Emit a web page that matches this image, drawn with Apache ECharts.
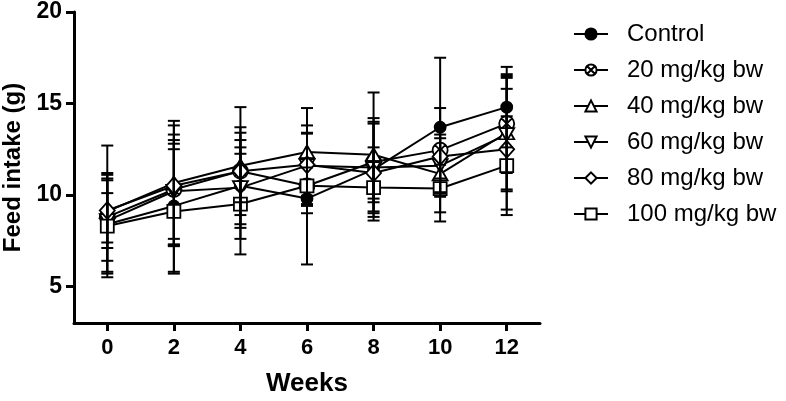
<!DOCTYPE html>
<html>
<head>
<meta charset="utf-8">
<script src="https://cdn.jsdelivr.net/npm/echarts@6/dist/echarts.min.js"></script>
<style>html,body{margin:0;padding:0;background:#fff}#c{width:786px;height:401px}</style>
</head>
<body>
<div id="c"></div>
<script>
const weeks = [0, 2, 4, 6, 8, 10, 12];
const xTicks = [0, 2, 4, 6, 8, 10, 12];
const yTicks = [5, 10, 15, 20];
const seriesNames = ['Control', '20 mg/kg bw', '40 mg/kg bw', '60 mg/kg bw', '80 mg/kg bw', '100 mg/kg bw'];

const controlMean = [8.4, 9.4, 10.5, 9.8, 11.4, 13.7, 14.8];
const controlSD   = [2.7, 3.6, 2.9, 3.6, 2.8, 3.8, 2.2];
const mg20Mean    = [8.8, 10.3, 11.3, 10.5, 11.8, 12.45, 13.9];
const mg20SD      = [2.4, 3.0, 2.4, 1.5, 2.2, 2.3, 2.7];
const mg40Mean    = [9.1, 10.65, 11.6, 12.35, 12.2, 11.15, 13.4];
const mg40SD      = [3.6, 3.4, 3.2, 2.4, 3.4, 2.6, 3.1];
const mg60Mean    = [8.6, 10.2, 10.4, 11.6, 11.5, 11.6, 13.3];
const mg60SD      = [1.5, 2.6, 2.2, 2.2, 2.4, 1.5, 3.1];
const mg80Mean    = [9.15, 10.5, 11.3, 11.65, 11.2, 12.1, 12.5];
const mg80SD      = [1.75, 3.3, 1.7, 1.7, 1.4, 1.2, 3.3];
const mg100Mean   = [8.3, 9.1, 9.5, 10.5, 10.4, 10.35, 11.6];
const mg100SD     = [2.5, 3.4, 2.75, 1.0, 1.4, 1.3, 2.7];

const means = [controlMean, mg20Mean, mg40Mean, mg60Mean, mg80Mean, mg100Mean];
const sds = [controlSD, mg20SD, mg40SD, mg60SD, mg80SD, mg100SD];

const FONT = 'Liberation Sans, Arial, sans-serif';
const symbols = [
  {symbol: 'circle', size: 11, fill: '#000'},
  {symbol: 'path://M10,1A9,9 0 1,1 9.99,1Z M3.6,3.6L16.4,16.4M16.4,3.6L3.6,16.4', size: 15, fill: '#fff'},
  {symbol: 'path://M7,0L14,12L0,12Z', size: [15, 13], fill: '#fff'},
  {symbol: 'path://M0,0L14,0L7,12Z', size: [15, 13], fill: '#fff'},
  {symbol: 'diamond', size: [15, 17], fill: '#fff'},
  {symbol: 'rect', size: 13, fill: '#fff'}
];

const series = [];
seriesNames.forEach((name, i) => {
  series.push({
    name: name,
    type: 'line',
    data: weeks.map((w, j) => [w, means[i][j]]),
    symbol: symbols[i].symbol,
    symbolSize: symbols[i].size,
    showAllSymbol: true,
    lineStyle: {color: '#000', width: 2},
    itemStyle: {color: symbols[i].fill, borderColor: '#000', borderWidth: 1.8},
    emphasis: {disabled: true},
    z: 3,
    animation: false
  });
});
seriesNames.forEach((name, i) => {
  series.push({
    name: name + ' err',
    type: 'custom',
    data: weeks.map((w, j) => [w, means[i][j] - sds[i][j], means[i][j] + sds[i][j]]),
    encode: {x: 0, y: [1, 2]},
    silent: true,
    z: 4,
    animation: false,
    renderItem: function (params, api) {
      const x = api.value(0), lo = api.value(1), hi = api.value(2);
      const pLo = api.coord([x, lo]);
      const pHi = api.coord([x, hi]);
      const w = 6;
      const st = {stroke: '#000', lineWidth: 2};
      return {type: 'group', children: [
        {type: 'line', shape: {x1: pLo[0], y1: pLo[1], x2: pHi[0], y2: pHi[1]}, style: st},
        {type: 'line', shape: {x1: pLo[0] - w, y1: pLo[1], x2: pLo[0] + w, y2: pLo[1]}, style: st},
        {type: 'line', shape: {x1: pHi[0] - w, y1: pHi[1], x2: pHi[0] + w, y2: pHi[1]}, style: st}
      ]};
    }
  });
});

const chart = echarts.init(document.getElementById('c'), null, {renderer: 'canvas'});
chart.setOption({
  animation: false,
  backgroundColor: '#fff',
  grid: {left: 74, right: 246, top: 12, bottom: 78, containLabel: false, outerBoundsMode: 'none'},
  legend: {
    data: seriesNames,
    orient: 'vertical',
    left: 568,
    top: 17,
    itemWidth: 34,
    itemHeight: 14,
    itemGap: 12,
    textStyle: {fontFamily: FONT, fontSize: 24, color: '#000', padding: [0, 0, 0, 14]},
    selectedMode: false
  },
  xAxis: {
    type: 'value',
    min: -1,
    max: 13,
    name: 'Weeks',
    nameLocation: 'middle',
    nameGap: 48,
    nameTextStyle: {fontFamily: FONT, fontSize: 26, fontWeight: 'bold', color: '#000'},
    axisLine: {show: true, onZero: false, lineStyle: {color: '#000', width: 3}},
    axisTick: {show: true, length: 8, lineStyle: {color: '#000', width: 3}, customValues: xTicks},
    axisLabel: {fontFamily: FONT, fontSize: 22, fontWeight: 'bold', color: '#000', margin: 14, customValues: xTicks},
    splitLine: {show: false}
  },
  yAxis: {
    type: 'value',
    min: 3,
    max: 20,
    name: 'Feed intake (g)',
    nameLocation: 'middle',
    nameGap: 47,
    nameTextStyle: {fontFamily: FONT, fontSize: 24, fontWeight: 'bold', color: '#000'},
    axisLine: {show: true, onZero: false, lineStyle: {color: '#000', width: 3}},
    axisTick: {show: true, length: 8, lineStyle: {color: '#000', width: 3}, customValues: yTicks},
    axisLabel: {fontFamily: FONT, fontSize: 23, fontWeight: 'bold', color: '#000', margin: 12, customValues: yTicks},
    splitLine: {show: false}
  },
  series: series
});
</script>
</body>
</html>
